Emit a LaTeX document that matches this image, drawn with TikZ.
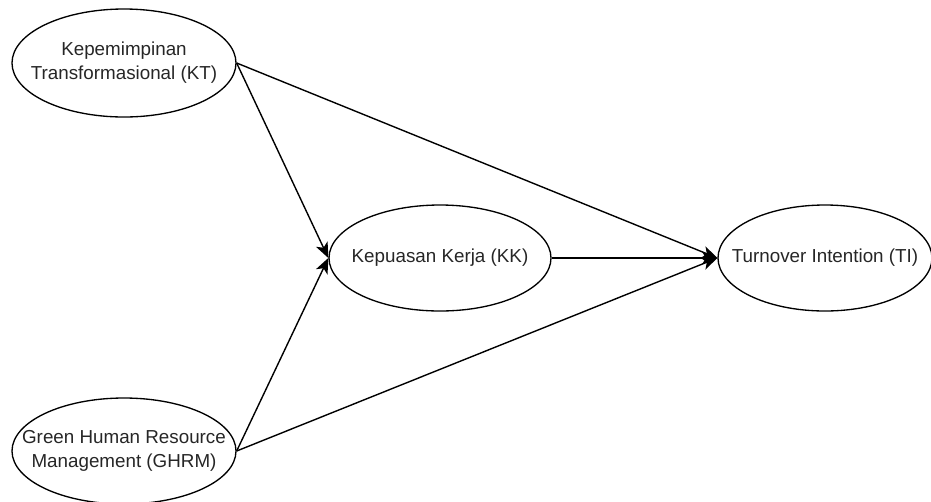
\documentclass[tikz,border=0pt]{standalone}
\usepackage{fontspec}
\setmainfont{Liberation Sans}
\usetikzlibrary{shapes.geometric,arrows.meta}
\begin{document}
\begin{tikzpicture}[x=0.75pt,y=-0.75pt,
  var/.style={ellipse,draw,line width=1pt,inner xsep=-30pt,inner ysep=0pt,
    align=center,text=black!85,font=\fontsize{14.1pt}{18pt}\selectfont},
  link/.style={line width=1.05pt,-{Stealth[length=11.5pt,width=9.5pt,inset=3pt]}}]
\useasboundingbox (0,0) rectangle (931,501);
\node[var,minimum width=168pt,minimum height=81pt] (kt) at (124,63) {Kepemimpinan\\Transformasional (KT)};
\node[var,minimum width=168pt,minimum height=79.5pt] (ghrm) at (124,451) {Green Human Resource\\Management (GHRM)};
\node[var,minimum width=166.5pt,minimum height=79.5pt] (kk) at (440,258) {Kepuasan Kerja (KK)};
\node[var,minimum width=160.5pt,minimum height=79.5pt] (ti) at (825,258) {Turnover Intention (TI)};
\draw[link] (kt.east) -- (kk.west);
\draw[link] (ghrm.east) -- (kk.west);
\draw[link] (kt.east) -- (ti.west);
\draw[link] (ghrm.east) -- (ti.west);
\draw[link] (kk.east) -- (ti.west);
\end{tikzpicture}
\end{document}
